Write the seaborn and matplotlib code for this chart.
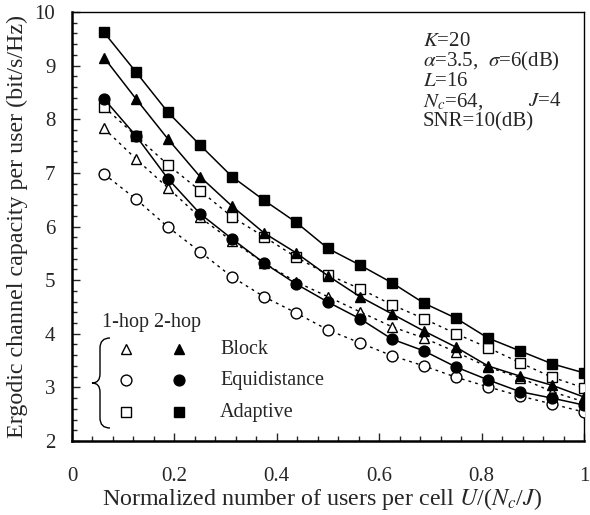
import numpy as np
import pandas as pd
import matplotlib
matplotlib.use("Agg")
import matplotlib.pyplot as plt
from matplotlib.path import Path
from matplotlib.patches import PathPatch
from matplotlib.ticker import MultipleLocator
import seaborn as sns

# normalized number of users per cell U/(Nc/J), U = 1..16
x_users = [0.0625, 0.125, 0.1875, 0.25, 0.3125, 0.375, 0.4375, 0.5,
           0.5625, 0.625, 0.6875, 0.75, 0.8125, 0.875, 0.9375, 1.0]

# 2-hop (filled markers, solid lines)
adaptive_2hop = [9.62, 8.88, 8.13, 7.52, 6.93, 6.49, 6.08, 5.59,
                 5.28, 4.95, 4.57, 4.29, 3.92, 3.68, 3.44, 3.27]
block_2hop = [9.15, 8.38, 7.63, 6.93, 6.38, 5.88, 5.51, 5.08,
              4.69, 4.37, 4.05, 3.75, 3.40, 3.21, 3.04, 2.82]
equi_2hop = [8.38, 7.69, 6.89, 6.24, 5.77, 5.32, 4.93, 4.59,
             4.28, 3.90, 3.68, 3.38, 3.14, 2.92, 2.80, 2.67]

# 1-hop (open markers, dotted lines)
adaptive_1hop = [8.23, 7.69, 7.15, 6.67, 6.18, 5.81, 5.43, 5.10,
                 4.84, 4.54, 4.28, 4.00, 3.74, 3.46, 3.19, 2.99]
block_1hop = [7.83, 7.26, 6.72, 6.17, 5.73, 5.32, 4.97, 4.69,
              4.41, 4.13, 3.92, 3.66, 3.38, 3.18, 2.92, 2.73]
equi_1hop = [6.98, 6.51, 5.99, 5.53, 5.06, 4.69, 4.39, 4.07,
             3.83, 3.59, 3.40, 3.19, 3.01, 2.84, 2.69, 2.54]

schemes = ["Block", "Equidistance", "Adaptive"]
scheme_markers = ["^", "o", "s"]

sns.set_style("ticks")
plt.rcParams["font.family"] = ["Liberation Serif", "DejaVu Serif"]
plt.rcParams["mathtext.fontset"] = "stix"

W, H = 590, 515
fig = plt.figure(figsize=(W / 100, H / 100), dpi=100)
ax = fig.add_axes([72 / W, 1 - 441 / H, 512 / W, 429 / H])


def px(x, y):
    # pixel position (top-left origin) -> figure fraction
    return x / W, 1 - y / H


dotted = (0, (2, 3))
ms = 7.8

one_hop = [block_1hop, equi_1hop, adaptive_1hop]
two_hop = [block_2hop, equi_2hop, adaptive_2hop]

for vals, mk in zip(one_hop, scheme_markers):
    df = pd.DataFrame({"x": x_users, "y": vals})
    sns.lineplot(data=df, x="x", y="y", ax=ax, color="black", lw=1.0,
                 linestyle=dotted, marker=mk, markersize=ms,
                 markerfacecolor="white", markeredgecolor="black",
                 markeredgewidth=1.0, zorder=3)

for vals, mk in zip(two_hop, scheme_markers):
    df = pd.DataFrame({"x": x_users, "y": vals})
    sns.lineplot(data=df, x="x", y="y", ax=ax, color="black", lw=1.1,
                 marker=mk, markersize=ms, markerfacecolor="black",
                 markeredgecolor="black", markeredgewidth=1.0, zorder=4)

ax.set_xlim(0, 1)
ax.set_ylim(2, 10)
ax.xaxis.set_major_locator(MultipleLocator(0.2))
ax.xaxis.set_minor_locator(MultipleLocator(0.04))
ax.yaxis.set_major_locator(MultipleLocator(1))
ax.yaxis.set_minor_locator(MultipleLocator(0.2))
ax.set_xticks([0, 0.2, 0.4, 0.6, 0.8, 1.0])
ax.set_xticklabels(["0", "0.2", "0.4", "0.6", "0.8", "1"])
ax.tick_params(which="both", direction="in", top=False, right=False,
               labelsize=15, width=1.0)
ax.tick_params(which="major", length=6)
ax.tick_params(which="minor", length=3.5)
ax.tick_params(axis="x", pad=19)
ax.tick_params(axis="y", pad=12)
for side in ["left", "bottom"]:
    ax.spines[side].set_linewidth(1.8)
for side in ["top", "right"]:
    ax.spines[side].set_linewidth(1.0)
    ax.spines[side].set_visible(True)
for s in ax.spines.values():
    s.set_color("black")

ax.set_xlabel(r"Normalized number of users per cell $U$/($N_c$/$J$)",
              fontsize=17.3)
ax.xaxis.set_label_coords(0.488, -0.104)
ax.set_ylabel("Ergodic channel capacity per user (bit/s/Hz)",
              fontsize=17.3, labelpad=5)

# parameter box
params = [r"$K$=20", r"$\alpha$=3.5,  $\sigma$=6(dB)", r"$L$=16",
          r"$N_c$=64,", "SNR=10(dB)"]
for i, t in enumerate(params):
    fig.text(*px(423, 41 + 20.3 * i), t, fontsize=15, va="center", ha="left")
fig.text(*px(528, 102), r"$J$=4", fontsize=15, va="center", ha="left")

# custom legend
fig.text(*px(102, 323), "1-hop 2-hop", fontsize=14.5, va="center", ha="left")
rows_y = [349, 380, 412]
for name, mk, ry in zip(schemes, scheme_markers, rows_y):
    fx, fy = px(126, ry)
    fig.lines.append(plt.Line2D([fx], [fy], transform=fig.transFigure,
                                marker=mk, markersize=ms, color="black",
                                markerfacecolor="white", markeredgewidth=1.0))
    fx, fy = px(179, ry)
    fig.lines.append(plt.Line2D([fx], [fy], transform=fig.transFigure,
                                marker=mk, markersize=ms, color="black",
                                markerfacecolor="black", markeredgewidth=1.0))
    fig.text(*px(220, ry), name, fontsize=14.5, va="center", ha="left")

# curly brace
brace_px = [(110, 338), (100, 338), (100, 348), (100, 374), (100, 383),
            (92, 383), (100, 383), (100, 392), (100, 418), (100, 428),
            (110, 428)]
codes = [Path.MOVETO, Path.CURVE3, Path.CURVE3, Path.LINETO, Path.CURVE3,
         Path.CURVE3, Path.CURVE3, Path.CURVE3, Path.LINETO, Path.CURVE3,
         Path.CURVE3]
verts = [px(a, b) for a, b in brace_px]
fig.patches.append(PathPatch(Path(verts, codes), transform=fig.transFigure,
                             fill=False, lw=1.0, color="black"))

fig.savefig("out.png", dpi=100)
